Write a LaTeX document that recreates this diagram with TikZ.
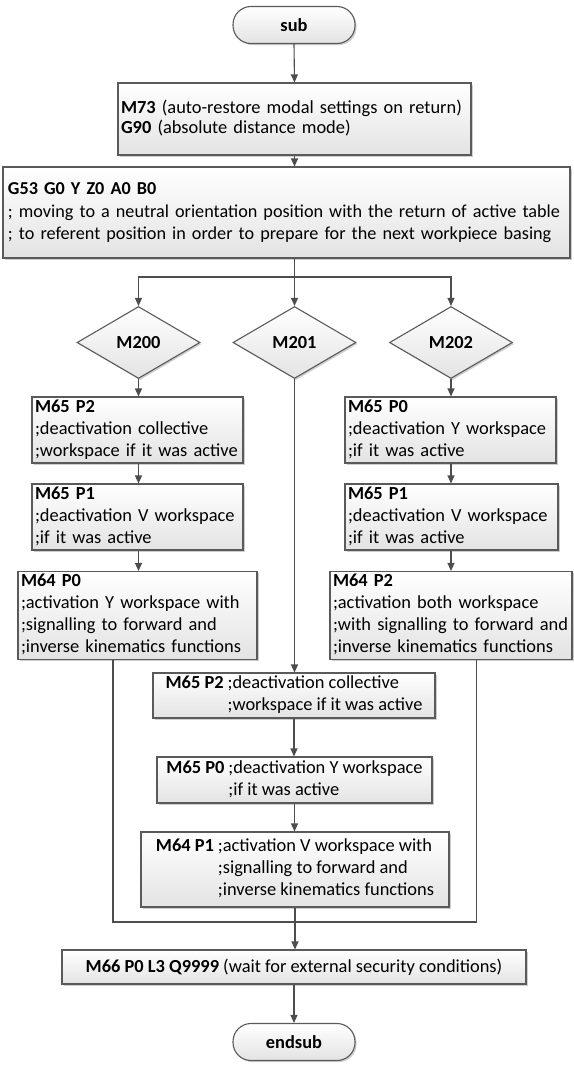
\documentclass[tikz,border=0pt]{standalone}
\usepackage{fontspec}
\setmainfont{Carlito}
\usetikzlibrary{shapes.geometric,arrows.meta,shadows}
\definecolor{ln}{HTML}{4D4D4D}
\definecolor{bd}{HTML}{5A5A5A}
\newcommand\dfont{\fontsize{18.4}{22}\selectfont}
\newcommand\lines[1]{\begin{tabular}{@{}l@{}}#1\end{tabular}}
\newcommand\hang[2]{\begin{tabular}{@{}l@{\hspace{4pt}}l@{}}\textbf{#1} & #2\end{tabular}}
\tikzset{
  base/.style={draw=bd, line width=1.1pt, top color=white, bottom color=black!11,
    drop shadow={shadow xshift=1.6pt, shadow yshift=-1.6pt, fill=black!35, opacity=0.55},
    inner sep=0pt, font=\dfont},
  lbox/.style={base, rectangle, align=left, inner xsep=3pt},
  cbox/.style={base, rectangle, align=center},
  dia/.style={base, diamond, minimum width=123pt, minimum height=72pt, font=\dfont\bfseries},
  term/.style={base, rectangle, rounded corners=18pt, minimum width=122pt, minimum height=37pt, font=\dfont\bfseries},
  arr/.style={draw=ln, line width=1.1pt, -{Triangle[length=8pt,width=7pt]}},
  ln/.style={draw=ln, line width=1.1pt}
}
\begin{document}
\begin{tikzpicture}[x=1pt,y=-1pt]
\useasboundingbox (0,0) rectangle (573,1065);

\node[term] (sub) at (294,25) {sub};
\node[lbox, text width=347pt, minimum height=72pt, font=\fontsize{18.4}{20}\selectfont] (m73) at (294.5,119)
  {\lines{\textbf{M73} (auto-restore modal settings on return)\\\textbf{G90} (absolute distance mode)}};
\node[lbox, inner xsep=5pt, text width=557pt, minimum height=91pt, font=\fontsize{18.2}{22.5}\selectfont] (g53) at (286.5,212.5)
  {\lines{\textbf{G53 G0 Y Z0 A0 B0}\\; moving to a neutral orientation position with the return of active table\\; to referent position in order to prepare for the next workpiece basing}};

\node[dia] (d200) at (138.5,342.5) {M200};
\node[dia] (d201) at (294.5,342.5) {M201};
\node[dia] (d202) at (451,342.5) {M202};

\node[lbox, text width=205pt, minimum height=64pt] (l1) at (137.5,430)
  {\lines{\textbf{M65 P2}\\;deactivation collective\\;workspace if it was active}};
\node[lbox, text width=205pt, minimum height=64pt] (l2) at (137.5,517)
  {\lines{\textbf{M65 P1}\\;deactivation V workspace\\;if it was active}};
\node[lbox, text width=233pt, minimum height=85pt] (l3) at (137.5,615.5)
  {\lines{\textbf{M64 P0}\\;activation Y workspace with\\;signalling to forward and\\;inverse kinematics functions}};

\node[lbox, text width=205pt, minimum height=64pt] (r1) at (450.5,430)
  {\lines{\textbf{M65 P0}\\;deactivation Y workspace\\;if it was active}};
\node[lbox, text width=207pt, minimum height=64pt] (r2) at (451.5,517)
  {\lines{\textbf{M65 P1}\\;deactivation V workspace\\;if it was active}};
\node[lbox, text width=236pt, minimum height=85pt] (r3) at (451,615.5)
  {\lines{\textbf{M64 P2}\\;activation both workspace\\;with signalling to forward and\\;inverse kinematics functions}};

\node[cbox, minimum width=282pt, minimum height=45pt] (c1) at (294,695.5)
  {\hang{M65 P2}{;deactivation collective\\ & ;workspace if it was active}};
\node[cbox, minimum width=275pt, minimum height=46pt] (c2) at (294.5,780)
  {\hang{M65 P0}{;deactivation Y workspace\\ & ;if it was active}};
\node[cbox, minimum width=308pt, minimum height=75pt] (c3) at (295,869.5)
  {\hang{M64 P1}{;activation V workspace with\\ & ;signalling to forward and\\ & ;inverse kinematics functions}};

\node[cbox, minimum width=464pt, minimum height=34pt] (m66) at (294,967)
  {\textbf{M66 P0 L3 Q9999} (wait for external security conditions)};
\node[term] (endsub) at (294,1042) {endsub};

\coordinate (j) at (294.5,277);
\coordinate (ml) at (113,922);
\coordinate (mr) at (476.5,922);

\draw[arr] (sub.south) -- (m73.north);
\draw[arr] (m73.south) -- (m73.south |- g53.north);
\draw[arr] (d201.north |- g53.south) -- (d201.north);
\draw[arr] (j) -| (d200.north);
\draw[arr] (j) -| (d202.north);

\draw[arr] (d200.south) -- (d200.south |- l1.north);
\draw[arr] (d200.south |- l1.south) -- (d200.south |- l2.north);
\draw[arr] (d200.south |- l2.south) -- (d200.south |- l3.north);

\draw[arr] (d202.south) -- (d202.south |- r1.north);
\draw[arr] (d202.south |- r1.south) -- (d202.south |- r2.north);
\draw[arr] (d202.south |- r2.south) -- (d202.south |- r3.north);

\draw[arr] (d201.south) -- (d201.south |- c1.north);
\draw[arr] (c1.south) -- (c1.south |- c2.north);
\draw[arr] (c2.south) -- (c2.south |- c3.north);

\draw[ln] (ml |- l3.south) -- (ml) -- (mr) -- (mr |- r3.south);
\draw[arr] (c3.south) -- (c3.south |- m66.north);
\draw[arr] (m66.south) -- (endsub.north);
\end{tikzpicture}
\end{document}
